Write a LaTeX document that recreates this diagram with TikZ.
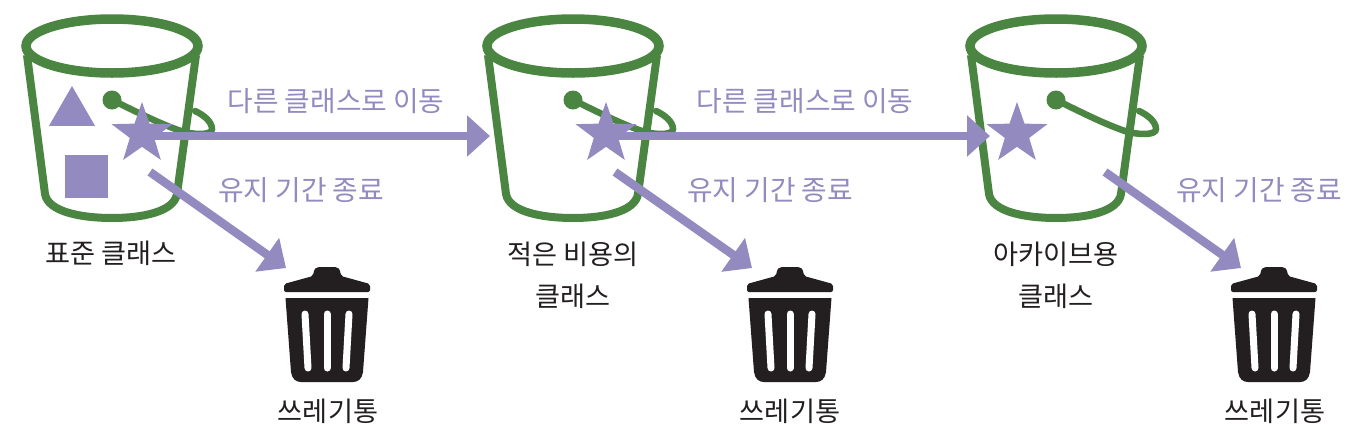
\documentclass[tikz,border=0pt]{standalone}
\usepackage{fontspec}
\setmainfont{Noto Sans CJK KR}
\usetikzlibrary{arrows.meta,shapes.geometric}
\definecolor{bucketgreen}{HTML}{4B8542}
\definecolor{movepurple}{HTML}{938ABF}
\definecolor{binblack}{HTML}{231F20}
\tikzset{
    bucket/.pic={
        \draw[bucketgreen,line width=9.5pt] (0,46) ellipse [x radius=86, y radius=27];
        \draw[bucketgreen,line width=8pt,line join=round]
            (-85,55) -- (-67,194) .. controls (-64,212) and (-30,218) .. (0,218)
            .. controls (30,218) and (62,212) .. (65,194) -- (84,55);
        \fill[bucketgreen] (0,100) circle (9.5);
        \draw[bucketgreen,line width=6.5pt,line cap=round]
            (0,100) .. controls (25,112) and (50,125) .. (72,132)
            .. controls (85,135) and (100,135) .. (100,129)
            .. controls (100,122) and (92,115) .. (83,111);
    },
    trashbin/.pic={
        \fill[binblack,rounded corners=2pt] (-43,292) -- (-43,284) -- (-14,276)
            .. controls (-13,268) and (-10,267) .. (-6,267) -- (6,267)
            .. controls (10,267) and (13,268) .. (14,276) -- (43,284) -- (43,292) -- cycle;
        \fill[binblack] (-41.5,298) -- (41.5,298) -- (36,372)
            .. controls (35,379) and (31,382) .. (26,382) -- (-26,382)
            .. controls (-31,382) and (-35,379) .. (-36,372) -- cycle;
        \foreach \topx/\botx in {-22/-19,0/0,22/19}
            \draw[white,line width=7pt,line cap=round] (\topx,314) -- (\botx,368);
    }
}
\begin{document}
\begin{tikzpicture}[x=1pt,y=-1pt,
    shapeitem/.style={fill=movepurple,inner sep=0pt,outer sep=0pt},
    starmark/.style={shapeitem,star,star points=5,star point ratio=2.5,minimum size=64pt},
    moveline/.style={movepurple,line width=8.5pt,-{Triangle[length=23pt,width=40pt]}},
    movelabel/.style={text=movepurple,font=\fontsize{27.8pt}{30pt}\selectfont},
    namelabel/.style={text=binblack,font=\fontsize{27.2pt}{30pt}\selectfont}]
    \useasboundingbox (0,0) rectangle (1347,445);
    \fill[white] (0,0) rectangle (1347,445);

    \pic at (112,0) {bucket};
    \pic at (573,0) {bucket};
    \pic at (1056,0) {bucket};

    \pic at (327,0) {trashbin};
    \pic at (790,0) {trashbin};
    \pic at (1274,0) {trashbin};

    \node[shapeitem,regular polygon,regular polygon sides=3,minimum size=53pt] (triangle) at (72,112.5) {};
    \node[shapeitem,minimum size=43pt] (square) at (86.5,176.5) {};
    \node[starmark] (star1) at (142,134) {};
    \node[starmark] (star2) at (606,134) {};
    \node[starmark] (star3) at (1017,134) {};

    \coordinate (move1) at (490,136);
    \coordinate (move2) at (990,136);
    \coordinate (exp1a) at (150,172);
    \coordinate (exp1b) at (286,268);
    \coordinate (exp2a) at (615,172);
    \coordinate (exp2b) at (752,268);
    \coordinate (exp3a) at (1105,172);
    \coordinate (exp3b) at (1241,268);

    \draw[moveline] (star1.center |- move1) -- (move1);
    \draw[moveline] (star2.center |- move2) -- (move2);
    \draw[moveline] (exp1a) -- (exp1b);
    \draw[moveline] (exp2a) -- (exp2b);
    \draw[moveline] (exp3a) -- (exp3b);

    \node[movelabel] (movetext1) at (336,101.5) {다른 클래스로 이동};
    \node[movelabel] (movetext2) at (805,101.5) {다른 클래스로 이동};
    \node[movelabel] (exptext1) at (301,190.5) {유지 기간 종료};
    \node[movelabel] (exptext2) at (770,190.5) {유지 기간 종료};
    \node[movelabel] (exptext3) at (1259,190.5) {유지 기간 종료};

    \node[namelabel] (name1) at (111,253) {표준 클래스};
    \node[namelabel] (name2a) at (573,254) {적은 비용의};
    \node[namelabel] (name2b) at (573,296) {클래스};
    \node[namelabel] (name3a) at (1056,254) {아카이브용};
    \node[namelabel] (name3b) at (1056,296) {클래스};
    \node[namelabel] (trash1) at (328,411) {쓰레기통};
    \node[namelabel] (trash2) at (790,411) {쓰레기통};
    \node[namelabel] (trash3) at (1275,411) {쓰레기통};
\end{tikzpicture}
\end{document}
